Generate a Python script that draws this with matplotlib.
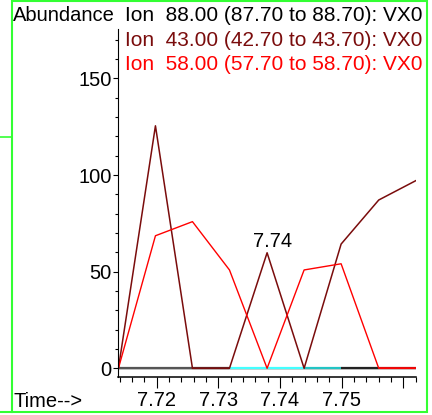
import matplotlib
matplotlib.use('Agg')
import matplotlib.pyplot as plt
from matplotlib.ticker import MultipleLocator
from matplotlib.lines import Line2D
from matplotlib.patches import Rectangle

plt.rcParams['font.family'] = ['Liberation Sans', 'DejaVu Sans']

# scan times and abundances
times = [7.7138, 7.7198, 7.7258, 7.7318, 7.7379, 7.7439, 7.7499, 7.7560, 7.7620]
ion88 = [0, 0, 0, 0, 0, 0, 0, 0, 0]
ion43 = [0, 125.5, 0, 0, 59.8, 0, 64.3, 87.1, 97.1]
ion58 = [0, 68.6, 75.9, 50.9, 0, 50.9, 54.1, 0, 0]

# colours of the baseline pieces between scans
base_colors = ['#555555', '#555555', '#5c2c2c', '#44ffff', '#44ffff',
               '#22c4c4', '#222222', '#cc1515']

ion_labels = ['Ion  88.00 (87.70 to 88.70): VX0',
              'Ion  43.00 (42.70 to 43.70): VX0',
              'Ion  58.00 (57.70 to 58.70): VX0']
ion_colors = ['#000000', '#7a0c0c', '#ff0000']

xtick_values = [7.72, 7.73, 7.74, 7.75, 7.76]
xtick_labels = ['7.72', '7.73', '7.74', '7.75', '']
ytick_values = [0, 50, 100, 150]
peak_label = '7.74'

W, H = 432, 415
fs = 14.5

fig = plt.figure(figsize=(W / 100, H / 100), dpi=100)
ax = fig.add_axes([118 / W, 1 - 377 / H, (416 - 118) / W, (377 - 29) / H])

ax.plot(times, ion88, color=ion_colors[0], lw=1.0)
for i in range(len(times) - 1):
    ax.plot(times[i:i + 2], [0, 0], color=base_colors[i], lw=1.6,
            solid_capstyle='butt')
ax.plot(times, ion43, color=ion_colors[1], lw=1.1)
ax.plot(times, ion58, color=ion_colors[2], lw=1.0)

ax.annotate(peak_label, xy=(times[4], ion43[4]), xytext=(5, 6),
            textcoords='offset pixels', ha='center', va='baseline',
            fontsize=fs)

ax.set_xlim(7.71373, 7.76204)
ax.set_ylim(-4.5, 175.6)

ax.set_xticks(xtick_values)
ax.set_xticklabels(xtick_labels)
ax.xaxis.set_minor_locator(MultipleLocator(0.002))
ax.set_yticks(ytick_values)
ax.yaxis.set_minor_locator(MultipleLocator(10))

ax.tick_params(axis='x', which='major', length=7.9, width=0.8, pad=2.0,
               labelsize=fs, direction='out')
ax.tick_params(axis='x', which='minor', length=3.6, width=0.8, direction='out')
ax.tick_params(axis='y', which='major', length=3.6, width=0.8, pad=1.0,
               labelsize=fs, direction='out')
ax.tick_params(axis='y', which='minor', length=2.2, width=0.8, direction='out')

for s in ['top', 'right']:
    ax.spines[s].set_visible(False)
ax.spines['left'].set_linewidth(0.8)
ax.spines['bottom'].set_linewidth(1.1)
ax.patch.set_alpha(0)

# header texts
fig.text(13 / W, 1 - 21 / H, 'Abundance', fontsize=fs, va='baseline', ha='left')
line_y = [21, 46, 70.5]
for lab, col, yy in zip(ion_labels, ion_colors, line_y):
    fig.text(125 / W, 1 - yy / H, lab, fontsize=15, color=col,
             va='baseline', ha='left')
fig.text(13 / W, 1 - 406.5 / H, 'Time-->', fontsize=fs, va='baseline', ha='left')

# green frame round the window
green = '#33ff33'
fig.patches.append(Rectangle((11.5 / W, 1 - 412 / H), (426.5 - 11.5) / W,
                             (412 - 1.5) / H, transform=fig.transFigure,
                             fill=False, edgecolor=green, lw=1.5))
fig.lines.append(Line2D([0, 11.5 / W], [1 - 137 / H] * 2,
                        transform=fig.transFigure, color=green, lw=1.2))
fig.lines.append(Line2D([0, 11.5 / W], [1 - 412 / H] * 2,
                        transform=fig.transFigure, color=green, lw=1.5))

fig.savefig('out.png', dpi=100)
